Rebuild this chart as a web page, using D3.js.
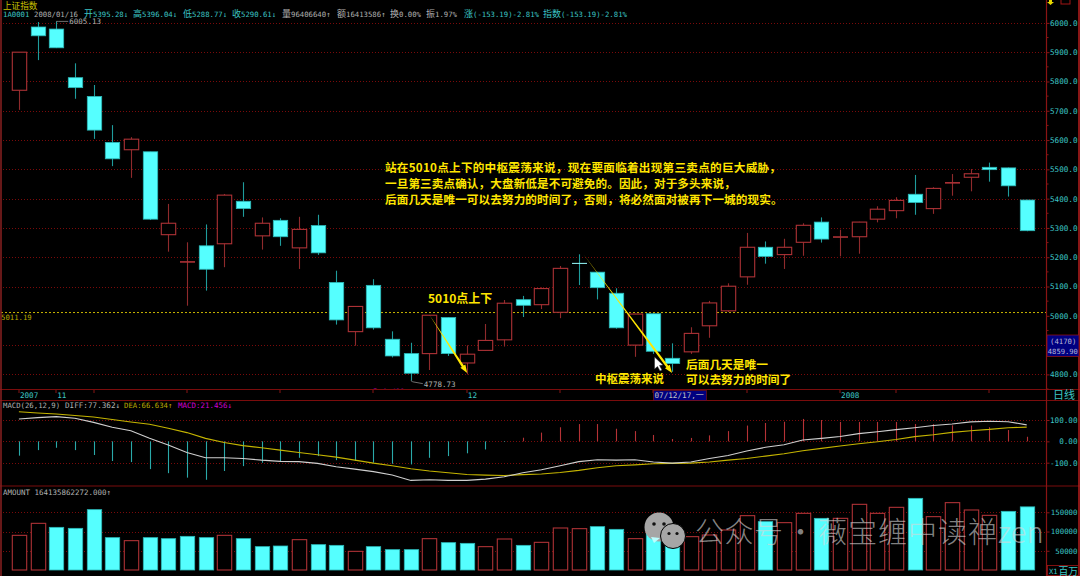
<!DOCTYPE html>
<html><head><meta charset="utf-8">
<style>
html,body{margin:0;padding:0;background:#000;width:1080px;height:576px;overflow:hidden}
svg{display:block}
text{white-space:pre}
</style>
<script src="https://cdn.jsdelivr.net/npm/d3@7/dist/d3.min.js"></script>
</head><body><svg id="c" width="1080" height="576"></svg>
<script>
// Candles in reading order from the picture
const open  = [5770,5986,5979,5813,5749,5592,5567,5560,5277,5183,5239,5246,5391,5273,5326,5232,5308,5114,4946,5104,4920,4871,4871,4994,4839,4882,4918,5055,5038,5012,5179.5,5149,5077,4900,5007,4855,4877,4966,5017,5133,5234,5209,5251,5320,5268,5270,5330,5359,5415,5366,5453,5473,5507,5505,5395.28];
const close = [5900,5956,5915,5779,5634,5536,5603,5330,5316,5185,5159,5412,5366,5316,5270,5295,5215,4986,5032,4959,4863,4804,5002,4871,4869,4916,5043,5036,5093,5162,5178.5,5096,4959,5006,4879,4837,4940,5044,5101,5234,5203,5234,5309,5262,5270,5320,5364,5394,5387,5435,5455,5485,5499,5443.8,5290.61];
const high  = [5900,6003,6005.13,5862,5788,5651,5610,5560,5382,5251,5312,5416,5456,5336,5333,5338,5345,5154,5033,5125,4947,4908,5003,4995,4899,4972,5054,5068,5097,5170,5210,5150,5094,5007,5008,4906,4961,5051,5111,5283,5254,5263,5316,5336,5294,5321,5374,5405,5481,5439,5484,5501,5523,5506,5396.04];
const low   = [5703,5873,5914,5741,5604,5511,5471,5327,5219,5034.5,5086,5166,5338,5226,5239,5160,5208,4970,4898,4953,4858,4778.73,4815,4863,4800,4881,4895,4996,5023,4992,5105,5056,4956,4860,4870,4809,4870,4925,5013,5106,5178,5160,5205,5250,5203,5212,5319,5333,5345,5348,5410,5425,5458,5407,5288.77];
const referenceLine = 5011.19;
const priceGrid = [6000,5900,5800,5700,5600,5500,5400,5300,5200,5100,4900,4800];
const priceTicks = [6000,5900,5800,5700,5600,5500,5400,5300,5200,5100,5000,4800];
const macdTicks = [100,0,-100];
const amountTicks = [150000,100000,50000];
const diff = [105,111,116,108,89,66,50,14,-17,-52,-77,-77,-80,-88,-94,-95,-103,-119,-130,-142,-158,-183,-180,-183,-183,-177,-166,-147,-133,-114,-95,-86,-88,-86,-97,-102,-97,-80,-66,-45,-28,-16,6,14,23,36,45,55,64,74,81,91,94,92,77.362];
const dea  = [139,133,128,121,114,102,91,80,61,41,14,-5,-20,-30,-41,-52,-63,-74,-88,-102,-114,-128,-139,-147,-155,-158,-160,-156,-153,-146,-136,-124,-114,-110,-105,-103,-102,-97,-88,-80,-69,-58,-44,-33,-22,-11,-2,9,22,31,42,50,56,64,66.634];
const macd = [-67,-41,-30,-41,-64,-92,-97,-130,-149,-170,-180,-139,-116,-100,-95,-77,-69,-88,-92,-100,-105,-108,-77,-69,-56,-38,-3,17,41,66,81,81,59,48,30,11,16,28,48,74,86,92,105,100,91,91,91,91,81,81,75,74,66,53,21.456];
const amount = [90100,121300,110900,108300,156900,84100,76300,84100,81500,87500,84100,90100,81500,60700,62400,78900,65900,64100,48500,60700,52900,52900,81500,71100,69300,60700,80600,64100,71900,109200,107500,112700,105700,81500,101400,63300,86700,91000,104000,141300,125700,123100,147300,134300,134300,170700,147300,162900,186300,138700,175100,156000,142100,152500,164135.86];
const amountUp = [1,1,0,0,0,0,1,0,0,0,0,1,0,0,0,1,0,0,1,0,0,0,1,0,0,1,1,0,1,1,1,0,0,1,0,0,1,1,1,1,0,1,1,0,1,1,1,1,0,1,1,1,1,0,0];
const dateLabels = [["2007",0],["11",2],["12",24],["2008",44]];
const dateTicks = [0,2,4,9,14,19,24,29,34,39,44,47,52];
const noteLines = ["站在5010点上下的中枢震荡来说，现在要面临着出现第三卖点的巨大威胁，","一旦第三卖点确认，大盘新低是不可避免的。因此，对于多头来说，","后面几天是唯一可以去努力的时间了，否则，将必然面对被再下一城的现实。"];

const W=1080,H=576, rightX=1046.5;
const svg=d3.select("#c");
const RED="#ad3236", REDW="#8f2a2c", CY="#55ffff", CYW="#1f9c9c", GRID="#7a0a0a", AX="#7a0c0c", TEAL="#3cc4c4", GRAY="#b0b0b0", YEL="#ffe600";
const MONO="'DejaVu Sans Mono','Noto Sans CJK SC',monospace", CJK="'Noto Sans CJK SC','Noto Sans',sans-serif";
const n=open.length;
const x=d3.scaleLinear().domain([0,n-1]).range([18.9,1026.7]);
const y=d3.scaleLinear().domain([6000,4800]).range([22.9,374.4]);
const ym=d3.scaleLinear().domain([100,-100]).range([420,462.7]);
const yv=d3.scaleLinear().domain([0,150000]).range([570,512.3]);
svg.append("rect").attr("width",W).attr("height",H).attr("fill","#000");

function grid(ticks,sc){
  svg.append("g").selectAll("line").data(ticks).join("line")
   .attr("x1",3).attr("x2",rightX).attr("y1",d=>Math.round(sc(d))+.5).attr("y2",d=>Math.round(sc(d))+.5)
   .attr("stroke",GRID).attr("stroke-width",1).attr("stroke-dasharray","1 2");
}
grid(priceGrid,y);
grid(macdTicks,ym);
grid(amountTicks,yv);

// a = advance of a Latin glyph in px, w = advance of a CJK glyph in px
function seg(xp,yp,s,fill,a,w){
  const t=svg.append("text").attr("x",xp).attr("y",yp).attr("fill",fill).attr("font-family",MONO).attr("font-size",(a||4.5)/.602);
  s.match(/[\u2E80-\uFFFF]+|[^\u2E80-\uFFFF]+/g).forEach(r=>{
    const wide=r.charCodeAt(0)>=0x2E80;
    t.append("tspan").attr("font-size",wide?(w||9):(a||4.5)/.602).attr("font-family",wide?CJK:MONO).text(r);
  });
  return t;
}

svg.append("line").attr("x1",1).attr("x2",rightX).attr("y1",y(referenceLine)).attr("y2",y(referenceLine))
  .attr("stroke","#c8b400").attr("stroke-width",1).attr("stroke-dasharray","2 2");
seg(1,320,referenceLine.toFixed(2),"#b8a800",4.4);

// candles
const cg=svg.append("g");
d3.range(n).forEach(i=>{
  const up=close[i]>=open[i], cx=Math.round(x(i))+.5;
  const top=y(Math.max(open[i],close[i])), bot=y(Math.min(open[i],close[i]));
  const flat=bot-top<2;
  cg.append("line").attr("x1",cx).attr("x2",cx).attr("y1",y(high[i])).attr("y2",y(low[i]))
    .attr("stroke",up?REDW:CYW).attr("stroke-width",1.1);
  if(flat){
    cg.append("line").attr("x1",cx-7.5).attr("x2",cx+7.5).attr("y1",(top+bot)/2).attr("y2",(top+bot)/2)
      .attr("stroke",up?RED:"#9ff").attr("stroke-width",up?1.6:1);
  } else {
    cg.append("rect").attr("x",cx-7.2).attr("width",14.4).attr("y",top).attr("height",bot-top)
      .attr("fill",up?"#000":CY).attr("stroke",up?RED:"#2bb8b8").attr("stroke-width",up?1.1:.8);
  }
});

function extreme(i,val,dx,label,dy){
  const x0=x(i),y0=y(val);
  svg.append("path").attr("d",`M${x0},${y0}L${x0+2},${y0+dy*.4}L${x0+dx},${y0+dy}`).attr("fill","none").attr("stroke","#8a8a8a").attr("stroke-width",.8);
  seg(x0+dx+1,y0+dy+3,label,GRAY,4.55);
}
extreme(2,high[2],12,"6005.13",0);
extreme(21,low[21],12,"4778.73",3);

function arrow(i0,p0,i1,p1){
  const x0=x(i0),y0=y(p0),x1=x(i1),y1=y(p1),a=Math.atan2(y1-y0,x1-x0),nx=-Math.sin(a),ny=Math.cos(a);
  const bx=x1-Math.cos(a)*8,by=y1-Math.sin(a)*8;
  svg.append("path").attr("fill",YEL).attr("d",
   `M${x0},${y0}L${bx+nx*1.2},${by+ny*1.2}L${bx+nx*3},${by+ny*3}L${x1},${y1}L${bx-nx*3},${by-ny*3}L${bx-nx*1.2},${by-ny*1.2}Z`);
}
arrow(22,5003,24.02,4805);
arrow(30.25,5210,35,4805);

svg.append("path").attr("d","M654.5,357L654.5,369L657.5,366.5L660,371L662,370L659.5,365.5L663,365Z").attr("fill","#fff").attr("stroke","#222").attr("stroke-width",.5);

// MACD
svg.append("g").selectAll("line").data(macd).join("line")
 .attr("x1",(d,i)=>Math.round(x(i))+.5).attr("x2",(d,i)=>Math.round(x(i))+.5)
 .attr("y1",ym(0)).attr("y2",d=>ym(d)).attr("stroke",d=>d>=0?"#b53236":"#2aa9a9").attr("stroke-width",1.1);
const ln=sc=>d3.line().x((d,i)=>x(i)).y(d=>sc(d));
svg.append("path").attr("d",ln(ym)(dea)).attr("fill","none").attr("stroke","#c4b400").attr("stroke-width",1.1);
svg.append("path").attr("d",ln(ym)(diff)).attr("fill","none").attr("stroke","#cfcfcf").attr("stroke-width",1.1);

// amount
svg.append("g").selectAll("rect").data(amount).join("rect")
 .attr("x",(d,i)=>Math.round(x(i))+.5-7.2).attr("width",14.4)
 .attr("y",d=>yv(d)).attr("height",d=>yv(0)-yv(d))
 .attr("fill",(d,i)=>amountUp[i]?"#000":CY).attr("stroke",(d,i)=>amountUp[i]?RED:"#2bb8b8").attr("stroke-width",(d,i)=>amountUp[i]?1.1:.8);

// frame
[389.5,400.5,486].forEach(v=>svg.append("line").attr("x1",0).attr("y1",v).attr("x2",W).attr("y2",v).attr("stroke",AX).attr("stroke-width",1.2));
svg.append("line").attr("x1",1).attr("x2",1).attr("y1",0).attr("y2",H).attr("stroke","#8a2020").attr("stroke-width",1.5);
svg.append("line").attr("x1",rightX).attr("x2",rightX).attr("y1",0).attr("y2",H).attr("stroke","#8a1414").attr("stroke-width",1.2);
svg.append("line").attr("x1",1079).attr("x2",1079).attr("y1",0).attr("y2",H).attr("stroke","#b81e1e").attr("stroke-width",1.5);

// axes
function axis(sc,ticks,fmt,a){
  const g=svg.append("g").attr("transform",`translate(${rightX},0)`).call(d3.axisRight(sc).tickValues(ticks).tickFormat(fmt).tickSize(3));
  g.select(".domain").remove();
  g.selectAll("line").attr("stroke","#8a1414");
  g.selectAll("text").attr("fill",TEAL).attr("font-family",MONO).attr("font-size",a/.602)
    .attr("x",31).attr("text-anchor","end");
  return g;
}
axis(y,priceTicks,d=>d.toFixed(1),4.6);
axis(ym,macdTicks,d=>d===0?"0.00":d===100?"100.00":"-100.0",4.6);
axis(yv,amountTicks,d=>d3.format("d")(d),4.45);

svg.append("g").selectAll("line").data(priceTicks).join("line").attr("x1",rightX).attr("x2",rightX+2)
 .attr("y1",d=>y(d-50)).attr("y2",d=>y(d-50)).attr("stroke","#8a1414");

// date strip
svg.append("g").selectAll("line").data(dateTicks).join("line").attr("x1",d=>Math.round(x(d))).attr("x2",d=>Math.round(x(d)))
 .attr("y1",390).attr("y2",393).attr("stroke","#8a1414");
dateLabels.forEach(d=>seg(x(d[1])+1,398,d[0],TEAL,4.6));
svg.append("rect").attr("x",653.5).attr("y",390.5).attr("width",53).attr("height",10).attr("fill","#000080").attr("stroke","#8a1414").attr("stroke-width",.6);
seg(654.5,398,"07/12/17,一","#c0c0c0",4.6,8);
seg(1053,398.5,"日线",TEAL,4.5,11);

svg.append("defs").append("clipPath").attr("id","cp").append("rect").attr("x",360).attr("y",378).attr("width",60).attr("height",11);
seg(373,394,"5.4 /00","#b000b0",4.5).attr("clip-path","url(#cp)");

svg.append("rect").attr("x",1047).attr("y",335).attr("width",32).attr("height",21.5).attr("fill","#000080").attr("stroke","#a01414").attr("stroke-width",.7);
seg(1050,343.5,"(4170)","#b8b8d8",4.4);
seg(1047.8,354,"4859.90","#b8b8d8",4.3);

// headers
seg(3,9,"上证指数","#c8c000",4.5,8.6);
const head=[[3,"1A0001",TEAL],[34,"2008/01/16",GRAY],[84,"开5395.28↓",TEAL],[133,"高5396.04↓",TEAL],[183,"低5288.77↓",TEAL],[232,"收5290.61↓",TEAL],[282,"量96406640↑",GRAY],[337,"额16413586↑",GRAY],[390,"换0.00%",GRAY],[426,"振1.97%",GRAY],[464,"涨(-153.19)-2.81%",TEAL],[543,"指数(-153.19)-2.81%",TEAL]];
head.forEach(h=>seg(h[0],16.5,h[1],h[2],4.4,9));
seg(3,408,"MACD(26,12,9)",GRAY,4.4);
seg(65,408,"DIFF:77.362↓",GRAY,4.6);
seg(124,408,"DEA:66.634↑","#b8a800",4.4);
seg(178,408,"MACD:21.456↓","#d000d0",4.5);
seg(3,495,"AMOUNT 164135862272.000↑",GRAY,4.5);
svg.append("path").attr("d","M1049,0L1049,2L1047,2L1050.5,5L1054,2L1052,2L1052,0Z").attr("fill","#e8d800");
svg.append("rect").attr("x",1061).attr("y",-2).attr("width",9).attr("height",6).attr("fill","none").attr("stroke","#a01414");
svg.append("rect").attr("x",1047.5).attr("y",565.5).attr("width",31).attr("height",10).attr("fill","#000").attr("stroke","#a01414").attr("stroke-width",.8);
seg(1049,574,"X1",TEAL,4.3);
seg(1058.5,574.5,"百万",TEAL,4.3,9.8);

// notes
noteLines.forEach((t,i)=>{
  svg.append("text").attr("x",385).attr("y",172+i*16).attr("fill",YEL).attr("font-family",CJK).attr("font-weight",700).attr("font-size",11.6)
   .attr("letter-spacing",i===0?.27:.1).text(t);
});
function note(xp,yp,t,size){svg.append("text").attr("x",xp).attr("y",yp).attr("fill",YEL).attr("font-family",CJK).attr("font-weight",700).attr("font-size",size).text(t);}
note(428,303,"5010点上下",12);
note(595,382.5,"中枢震荡来说",11.5);
note(686,368.5,"后面几天是唯一",11.7);
note(686,384,"可以去努力的时间了",11.7);

// watermark
const wm=svg.append("g");
wm.append("circle").attr("cx",659).attr("cy",527).attr("r",14.5).attr("fill","#a6a6a6");
wm.append("circle").attr("cx",654).attr("cy",524).attr("r",1.8).attr("fill","#111");
wm.append("circle").attr("cx",664).attr("cy",524).attr("r",1.8).attr("fill","#111");
wm.append("path").attr("d","M651,537L654,543L660,538Z").attr("fill","#bff");
wm.append("circle").attr("cx",673).attr("cy",536).attr("r",12.5).attr("fill","#a6a6a6").attr("stroke","#000").attr("stroke-width",1);
wm.append("circle").attr("cx",669).attr("cy",533.5).attr("r",1.6).attr("fill","#111");
wm.append("circle").attr("cx",677).attr("cy",533.5).attr("r",1.6).attr("fill","#111");
function wmText(xp,t,sp){
  svg.append("text").attr("x",xp).attr("y",543).attr("fill","#d8d8d8").attr("fill-opacity",.62).attr("font-family",CJK).attr("font-size",29).attr("font-weight",300)
    .attr("letter-spacing",sp).text(t);
}
wmText(695,"公众号",0.5);
wmText(786,"·",0);
wmText(818,"薇宝缠中读禅",1);
wmText(998,"zen",0);
</script></body></html>
